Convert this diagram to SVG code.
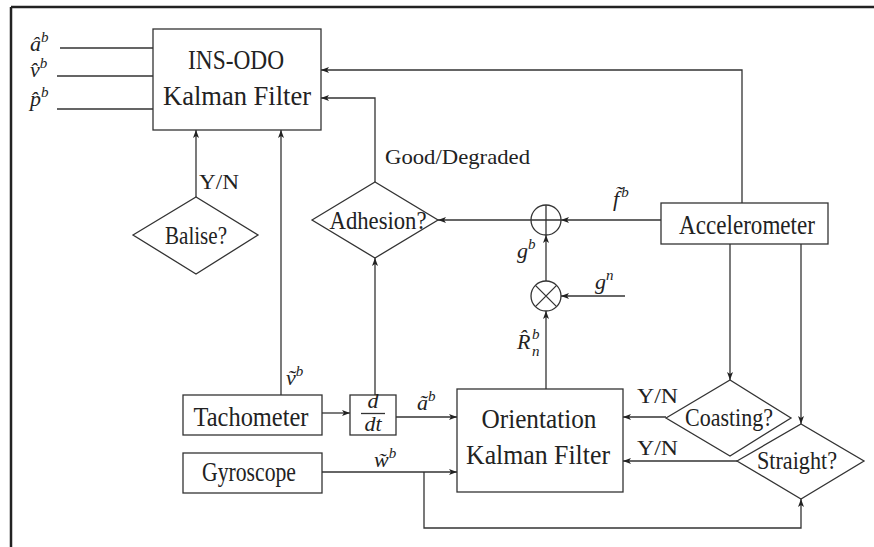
<svg xmlns="http://www.w3.org/2000/svg" width="874" height="547" viewBox="0 0 874 547" font-family="Liberation Serif, DejaVu Serif, serif">
<style>
.box{fill:#fff;stroke:#333;stroke-width:1.3}
.ln{fill:none;stroke:#333;stroke-width:1.3}
text{fill:#222}
.t{text-anchor:middle}
.big{font-size:27px}
.mid{font-size:25px}
.lab{font-size:21px}
.m{font-style:italic;font-size:22px}
.sup{font-size:15px}
</style>
<defs>
<marker id="ar" viewBox="0 0 8 6" refX="8" refY="3" markerWidth="8" markerHeight="6" orient="auto" markerUnits="userSpaceOnUse">
<path d="M0,0 L8,3 L0,6 L2,3 z" fill="#222"/>
</marker>
</defs>
<rect width="874" height="547" fill="#fff"/>
<g id="frame">
<path d="M11,7 H874 M11,7 V547" fill="none" stroke="#222" stroke-width="2.5"/>
</g>
<g id="connectors">
<path class="ln" d="M742,203 V70 H321" marker-end="url(#ar)"/>
<path class="ln" d="M375,182 V98 H321" marker-end="url(#ar)"/>
<path class="ln" d="M196,197 V130" marker-end="url(#ar)"/>
<path class="ln" d="M281,395 V130" marker-end="url(#ar)"/>
<path class="ln" d="M375,395 V258" marker-end="url(#ar)"/>
<path class="ln" d="M661,220 H561" marker-end="url(#ar)"/>
<path class="ln" d="M531,220 H438" marker-end="url(#ar)"/>
<path class="ln" d="M625,296 H561" marker-end="url(#ar)"/>
<path class="ln" d="M546,281 V235" marker-end="url(#ar)"/>
<path class="ln" d="M546,389 V311" marker-end="url(#ar)"/>
<path class="ln" d="M730,244 V380" marker-end="url(#ar)"/>
<path class="ln" d="M801,244 V424" marker-end="url(#ar)"/>
<path class="ln" d="M666,417 H623" marker-end="url(#ar)"/>
<path class="ln" d="M737,461 H623" marker-end="url(#ar)"/>
<path class="ln" d="M322,413 H350" marker-end="url(#ar)"/>
<path class="ln" d="M396,417 H457" marker-end="url(#ar)"/>
<path class="ln" d="M322,472 H457" marker-end="url(#ar)"/>
<path class="ln" d="M424,472 V528 H801 V499" marker-end="url(#ar)"/>
<path class="ln" d="M60,48 H153 M57,76 H153 M57,109 H153"/>
</g>
<g id="ins-odo">
<rect class="box" x="153" y="29" width="168" height="101"/>
<text class="t big" x="236" y="69" textLength="96" lengthAdjust="spacingAndGlyphs">INS-ODO</text>
<text class="t big" x="237" y="105" textLength="148" lengthAdjust="spacingAndGlyphs">Kalman Filter</text>
</g>
<g id="orientation-kf">
<rect class="box" x="457" y="389" width="166" height="103"/>
<text class="t big" x="539" y="428" textLength="115" lengthAdjust="spacingAndGlyphs">Orientation</text>
<text class="t big" x="538" y="464" textLength="144" lengthAdjust="spacingAndGlyphs">Kalman Filter</text>
</g>
<g id="accelerometer">
<rect class="box" x="661" y="203" width="167" height="41"/>
<text class="t big" x="747" y="234" textLength="136" lengthAdjust="spacingAndGlyphs">Accelerometer</text>
</g>
<g id="tachometer">
<rect class="box" x="183" y="395" width="139" height="40"/>
<text class="t big" x="251" y="426" textLength="115" lengthAdjust="spacingAndGlyphs">Tachometer</text>
</g>
<g id="gyroscope">
<rect class="box" x="183" y="453" width="139" height="40"/>
<text class="t big" x="249" y="481" textLength="94" lengthAdjust="spacingAndGlyphs">Gyroscope</text>
</g>
<g id="ddt">
<rect class="box" x="350" y="395" width="46" height="40"/>
<text class="t m" x="373" y="408" font-size="15">d</text>
<path class="ln" d="M361,413.5 H385"/>
<text class="t m" x="373" y="431" font-size="15">dt</text>
</g>
<g id="adhesion">
<polygon class="box" points="312,220 375,182 438,220 375,258"/>
<text class="t mid" x="378" y="229" textLength="97" lengthAdjust="spacingAndGlyphs">Adhesion?</text>
</g>
<g id="balise">
<polygon class="box" points="133,235 196,197 258,235 196,274"/>
<text class="t mid" x="196" y="244" textLength="62" lengthAdjust="spacingAndGlyphs">Balise?</text>
</g>
<g id="coasting">
<polygon class="box" points="666,418 730,380 791,418 730,456"/>
<text class="t mid" x="729" y="426" textLength="88" lengthAdjust="spacingAndGlyphs">Coasting?</text>
</g>
<g id="straight">
<polygon class="box" points="737,461 801,424 864,461 801,499"/>
<text class="t mid" x="797" y="469" textLength="80" lengthAdjust="spacingAndGlyphs">Straight?</text>
</g>
<g id="sum">
<circle class="box" cx="546" cy="220" r="15"/>
<path class="ln" d="M531,220 H561 M546,205 V235"/>
</g>
<g id="product">
<circle class="box" cx="546" cy="296" r="15"/>
<path class="ln" d="M535.4,285.4 L556.6,306.6 M556.6,285.4 L535.4,306.6"/>
</g>
<g id="labels">
<text class="m" x="30" y="51">â<tspan class="sup" dy="-9">b</tspan></text>
<text class="m" x="30" y="77">v̂<tspan class="sup" dy="-9">b</tspan></text>
<text class="m" x="30" y="106">p̂<tspan class="sup" dy="-9">b</tspan></text>
<text class="lab" x="199" y="189" textLength="40" lengthAdjust="spacingAndGlyphs">Y/N</text>
<text class="lab" x="385" y="164" textLength="145" lengthAdjust="spacingAndGlyphs">Good/Degraded</text>
<text class="m" x="613" y="206">f̃<tspan class="sup" dx="2" dy="-9">b</tspan></text>
<text class="m" x="517" y="258">g<tspan class="sup" dy="-9">b</tspan></text>
<text class="m" x="595" y="289">g<tspan class="sup" dy="-9">n</tspan></text>
<text class="m" x="517" y="349">R̂</text>
<text class="m sup" x="532" y="339" font-size="13">b</text>
<text class="m sup" x="532" y="356" font-size="13">n</text>
<text class="m" x="286" y="385">ṽ<tspan class="sup" dy="-9">b</tspan></text>
<text class="m" x="417" y="410">ã<tspan class="sup" dy="-9">b</tspan></text>
<text class="m" x="374" y="467">w̃<tspan class="sup" dy="-9">b</tspan></text>
<text class="lab" x="637" y="403" textLength="41" lengthAdjust="spacingAndGlyphs">Y/N</text>
<text class="lab" x="637" y="455" textLength="41" lengthAdjust="spacingAndGlyphs">Y/N</text>
</g>
</svg>
